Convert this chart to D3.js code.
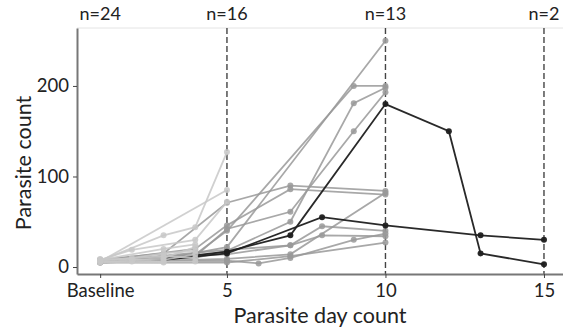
<!DOCTYPE html>
<html>
<head>
<meta charset="utf-8">
<script src="https://cdn.jsdelivr.net/npm/d3@7"></script>
<style>
  body { margin: 0; background: #fff; }
  svg { font-family: "Lato", "DejaVu Sans", sans-serif; }
</style>
</head>
<body>
<svg id="chart" width="563" height="334"></svg>
<script>
// x values are days, baseline = day 1
var tickDays = [1, 5, 10, 15];
var tickLabels = ["Baseline", "5", "10", "15"];
var nLabels = ["n=24", "n=16", "n=13", "n=2"];
var yTicks = [0, 100, 200];

// light grey: followed up to day 5 at most
var lightSeries = [
  [[1, 7], [3, 35], [4, 44], [5, 127]],
  [[1, 6], [5, 85]],
  [[1, 8], [2, 19], [4, 30], [5, 72]],
  [[1, 5], [3, 10], [4, 22]],
  [[1, 7], [3, 12], [4, 10]],
  [[1, 6], [2, 8], [3, 6]],
  [[1, 8], [3, 20], [4, 25]],
  [[1, 5], [2, 6], [4, 6]],
  [[1, 9], [3, 8], [4, 14]],
  [[1, 6], [3, 5]],
  [[1, 7], [2, 10], [3, 15], [4, 18]]
];

// mid grey: followed up to day 10
var midSeries = [
  [[1, 6], [3, 9], [5, 22], [10, 250]],
  [[1, 7], [4, 14], [5, 40], [9, 200], [10, 200]],
  [[1, 5], [4, 10], [5, 18], [7, 50], [9, 181], [10, 198]],
  [[1, 6], [4, 12], [5, 42], [7, 61], [9, 150], [10, 193]],
  [[1, 8], [3, 15], [5, 71], [7, 90], [10, 84]],
  [[1, 7], [4, 20], [5, 46], [7, 86], [10, 80]],
  [[1, 5], [5, 9], [7, 14], [10, 82]],
  [[1, 6], [5, 19], [7, 24], [8, 45], [10, 40]],
  [[1, 6], [5, 7], [6, 4], [7, 10], [9, 30], [10, 37]],
  [[1, 7], [5, 14], [7, 24], [8, 35], [10, 34]],
  [[1, 5], [5, 5], [7, 12], [10, 27]]
];

// dark: followed up to day 15
var darkSeries = [
  [[1, 7], [3, 9], [5, 17], [7, 35], [10, 180], [12, 150], [13, 15], [15, 3]],
  [[1, 6], [3, 8], [5, 15], [8, 55], [10, 46], [13, 35], [15, 30]]
];

(function() {
  var svg = d3.select("#chart");
  var left = 77, right = 563, plotTop = 28, plotBottom = 274;

  var x = d3.scaleLinear().domain([0.27, 15.6]).range([left, right]);
  var y = d3.scaleLinear().domain([-7.7, 264]).range([plotBottom, plotTop]);

  // top border
  svg.append("line")
    .attr("x1", left).attr("x2", right)
    .attr("y1", plotTop).attr("y2", plotTop)
    .attr("stroke", "#e4e4e4").attr("stroke-width", 1);

  // dashed day markers
  svg.selectAll(".vline")
    .data(tickDays.slice(1))
    .enter().append("line")
    .attr("class", "vline")
    .attr("x1", function(d) { return x(d); })
    .attr("x2", function(d) { return x(d); })
    .attr("y1", plotTop).attr("y2", plotBottom)
    .attr("stroke", "#444").attr("stroke-width", 1.4)
    .attr("stroke-dasharray", "6,3");

  // n labels
  svg.selectAll(".nlab")
    .data(tickDays)
    .enter().append("text")
    .attr("class", "nlab")
    .attr("x", function(d) { return x(d); })
    .attr("y", 20)
    .attr("text-anchor", "middle")
    .attr("font-size", "18px")
    .attr("fill", "#222")
    .text(function(d, i) { return nLabels[i]; });

  var line = d3.line()
    .x(function(d) { return x(d[0]); })
    .y(function(d) { return y(d[1]); });

  function drawGroup(data, color, op) {
    var g = svg.append("g");
    data.forEach(function(s) {
      g.append("path")
        .attr("d", line(s))
        .attr("fill", "none")
        .attr("stroke", color)
        .attr("stroke-opacity", op)
        .attr("stroke-width", 1.8);
      g.selectAll(null)
        .data(s)
        .enter().append("circle")
        .attr("cx", function(d) { return x(d[0]); })
        .attr("cy", function(d) { return y(d[1]); })
        .attr("r", 3)
        .attr("fill", color)
        .attr("fill-opacity", op);
    });
  }

  drawGroup(midSeries, "#999999", 0.85);
  drawGroup(darkSeries, "#1e1e1e", 0.95);
  drawGroup(lightSeries, "#c8c8c8", 0.85);

  // axes
  var xAxis = d3.axisBottom(x)
    .tickValues(tickDays)
    .tickFormat(function(d, i) { return tickLabels[i]; })
    .tickSize(4).tickSizeOuter(0).tickPadding(6);
  var yAxis = d3.axisLeft(y)
    .tickValues(yTicks)
    .tickSize(4).tickSizeOuter(0).tickPadding(4);

  var gx = svg.append("g")
    .attr("transform", "translate(0," + plotBottom + ")")
    .call(xAxis);
  var gy = svg.append("g")
    .attr("transform", "translate(" + left + ",0)")
    .call(yAxis);

  [gx, gy].forEach(function(g) {
    g.select(".domain").attr("stroke", "#777").attr("stroke-width", 2);
    g.selectAll(".tick line").attr("stroke", "#444");
    g.selectAll(".tick text")
      .attr("font-size", "18.5px")
      .attr("fill", "#222")
      .attr("font-family", "Lato, DejaVu Sans, sans-serif");
  });

  // axis titles
  svg.append("text")
    .attr("x", (left + right) / 2)
    .attr("y", 323)
    .attr("text-anchor", "middle")
    .attr("font-size", "21.5px")
    .attr("fill", "#222")
    .text("Parasite day count");

  svg.append("text")
    .attr("transform", "translate(31," + ((plotTop + plotBottom) / 2 + 12) + ") rotate(-90)")
    .attr("text-anchor", "middle")
    .attr("font-size", "21.5px")
    .attr("fill", "#222")
    .text("Parasite count");
})();
</script>
</body>
</html>
